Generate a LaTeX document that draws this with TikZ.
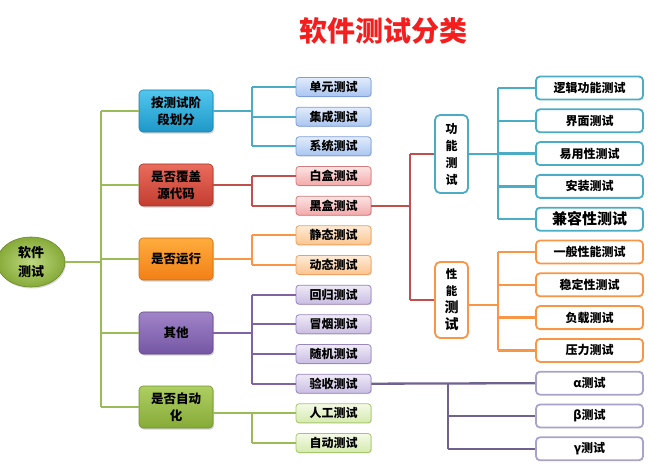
\documentclass[tikz,border=0pt]{standalone}
\usepackage{fontspec}
\newfontfamily\cjk{Noto Sans CJK SC}
\usetikzlibrary{shadows,calc,shapes.geometric}
\definecolor{titleR}{HTML}{F41E1E}
\definecolor{gLine}{HTML}{9BBB59}
\definecolor{bLine}{HTML}{4BACC6}
\definecolor{rLine}{HTML}{C0504D}
\definecolor{oLine}{HTML}{F79646}
\definecolor{pLine}{HTML}{8064A2}
\definecolor{qLine}{HTML}{6F6290}
% level-1 gradients
\definecolor{blueT}{HTML}{52C6EE}\definecolor{blueB}{HTML}{1E98C8}
\definecolor{redT}{HTML}{EA6C5C}\definecolor{redB}{HTML}{C23D2F}
\definecolor{orangeT}{HTML}{FFAC3E}\definecolor{orangeB}{HTML}{F28016}
\definecolor{purpleT}{HTML}{A084C8}\definecolor{purpleB}{HTML}{7456A4}
\definecolor{greenT}{HTML}{AECF62}\definecolor{greenB}{HTML}{86AA38}
% level-2 gradients
\definecolor{blueL}{HTML}{E2ECFB}\definecolor{blueD}{HTML}{A9C5F0}\definecolor{blueE}{HTML}{7D9FD6}
\definecolor{redL}{HTML}{FCE4E4}\definecolor{redD}{HTML}{F3A9A9}\definecolor{redE}{HTML}{D07C7C}
\definecolor{orangeL}{HTML}{FEEBD6}\definecolor{orangeD}{HTML}{FBC48E}\definecolor{orangeE}{HTML}{EEA060}
\definecolor{purpleL}{HTML}{EFEAF7}\definecolor{purpleD}{HTML}{C9BCE2}\definecolor{purpleE}{HTML}{9886BE}
\definecolor{greenL}{HTML}{F4FAE6}\definecolor{greenD}{HTML}{D5EAAE}\definecolor{greenE}{HTML}{A6C66C}
\definecolor{rBlue}{HTML}{4BACC6}
\definecolor{rOrange}{HTML}{F79646}
\definecolor{rPurple}{HTML}{AAA2CA}
\begin{document}
\begin{tikzpicture}[x=1pt,y=-1pt,
  base/.style={inner sep=0pt, align=center, text=black},
  lone/.style={base, rounded corners=4pt, minimum width=74pt, minimum height=42pt,
    top color=#1T, bottom color=#1B, draw=#1B!85!black, line width=0.6pt,
    drop shadow={opacity=0.35, shadow xshift=1.2pt, shadow yshift=-1.6pt},
    font=\cjk\bfseries\fontsize{12.5}{17}\selectfont},
  ltwo/.style={base, rounded corners=3pt, minimum width=75pt, minimum height=19pt,
    top color=#1L, bottom color=#1D, draw=#1E, line width=0.8pt,
    drop shadow={opacity=0.25, shadow xshift=0.8pt, shadow yshift=-0.9pt},
    font=\cjk\bfseries\fontsize{12}{14}\selectfont},
  rbox/.style={base, rounded corners=4pt, minimum width=107pt, minimum height=23pt,
    fill=white, draw=#1, line width=1.8pt,
    font=\cjk\bfseries\fontsize{12}{14}\selectfont},
  vbox/.style={base, rounded corners=5pt, minimum width=33pt, fill=white, draw=#1, line width=1.8pt,
    font=\cjk\bfseries\fontsize{12}{17}\selectfont},
  conn/.style={line width=2.3pt, draw=#1},
]
\useasboundingbox (0,0) rectangle (665,468);

% title
\node[base, text=titleR, font=\cjk\bfseries\fontsize{28}{30}\selectfont] (title) at (383,31) {软件测试分类};

% root
\node[base, ellipse, minimum width=68pt, minimum height=50pt, inner color=greenT!80!white, outer color=greenB,
  draw=greenB!80!black, line width=0.6pt,
  drop shadow={opacity=0.3, shadow xshift=1pt, shadow yshift=-1.5pt},
  font=\cjk\bfseries\fontsize{13}{19}\selectfont] (root) at (31,262) {软件\\测试};

% level 1
\node[lone=blue]   (c1) at (176,111) {按测试阶\\段划分};
\node[lone=red]    (c2) at (176,185) {是否覆盖\\源代码};
\node[lone=orange] (c3) at (176,259) {是否运行};
\node[lone=purple] (c4) at (176,333) {其他};
\node[lone=green]  (c5) at (176,407) {是否自动\\化};

% level 2
\node[ltwo=blue]   (s1)  at (333.5,87)    {单元测试};
\node[ltwo=blue]   (s2)  at (333.5,116.7) {集成测试};
\node[ltwo=blue]   (s3)  at (333.5,146.3) {系统测试};
\node[ltwo=red]    (s4)  at (333.5,176)   {白盒测试};
\node[ltwo=red]    (s5)  at (333.5,205.7) {黑盒测试};
\node[ltwo=orange] (s6)  at (333.5,235.3) {静态测试};
\node[ltwo=orange] (s7)  at (333.5,265)   {动态测试};
\node[ltwo=purple] (s8)  at (333.5,294.7) {回归测试};
\node[ltwo=purple] (s9)  at (333.5,324.3) {冒烟测试};
\node[ltwo=purple] (s10) at (333.5,354)   {随机测试};
\node[ltwo=purple] (s11) at (333.5,383.7) {验收测试};
\node[ltwo=green]  (s12) at (333.5,413.3) {人工测试};
\node[ltwo=green]  (s13) at (333.5,443)   {自动测试};

% vertical boxes
\node[vbox=rBlue, minimum height=78pt] (fun) at (451.5,154) {功\\能\\测\\试};
\node[vbox=rOrange, minimum height=76pt] (perf) at (451.5,300)
  {{\fontsize{11.5}{16}\selectfont 性}\\{\fontsize{11.5}{16}\selectfont 能}\\{\fontsize{14}{17}\selectfont 测}\\{\fontsize{14}{17}\selectfont 试}};

% right boxes
\node[rbox=rBlue]   (r1)  at (589.5,88)    {逻辑功能测试};
\node[rbox=rBlue]   (r2)  at (589.5,120.8) {界面测试};
\node[rbox=rBlue]   (r3)  at (589.5,153.6) {易用性测试};
\node[rbox=rBlue]   (r4)  at (589.5,186.4) {安装测试};
\node[rbox=rBlue, font=\cjk\bfseries\fontsize{15}{17}\selectfont] (r5) at (589.5,219.2) {兼容性测试};
\node[rbox=rOrange] (r6)  at (589.5,252)   {一般性能测试};
\node[rbox=rOrange] (r7)  at (589.5,284.8) {稳定性测试};
\node[rbox=rOrange] (r8)  at (589.5,317.6) {负载测试};
\node[rbox=rOrange] (r9)  at (589.5,350.4) {压力测试};
\node[rbox=rPurple] (r10) at (589.5,383.2) {α测试};
\node[rbox=rPurple] (r11) at (589.5,416)   {β测试};
\node[rbox=rPurple] (r12) at (589.5,448.8) {γ测试};

% trunk
\coordinate (tk) at (101,0);
\draw[conn=gLine] (root.east) -- (tk |- root);
\draw[conn=gLine] (tk |- c1) -- (tk |- c5);
\foreach \i in {1,...,5} \draw[conn=gLine] (tk |- c\i) -- (c\i.west);

% level1 -> level2
\coordinate (bx) at (252,0);
\draw[conn=bLine] (c1.east) -- (bx |- c1);
\draw[conn=bLine] (bx |- s1) -- (bx |- s3);
\foreach \i in {1,2,3} \draw[conn=bLine] (bx |- s\i) -- (s\i.west);

\draw[conn=rLine] (c2.east) -- (bx |- c2);
\draw[conn=rLine] (bx |- s4) -- (bx |- s5);
\foreach \i in {4,5} \draw[conn=rLine] (bx |- s\i) -- (s\i.west);

\draw[conn=oLine] (c3.east) -- (bx |- c3);
\draw[conn=oLine] (bx |- s6) -- (bx |- s7);
\foreach \i in {6,7} \draw[conn=oLine] (bx |- s\i) -- (s\i.west);

\draw[conn=pLine] (c4.east) -- (bx |- c4);
\draw[conn=pLine] (bx |- s8) -- (bx |- s11);
\foreach \i in {8,...,11} \draw[conn=pLine] (bx |- s\i) -- (s\i.west);

\draw[conn=gLine] (c5.east |- s12) -- (bx |- s12);
\draw[conn=gLine] (bx |- s12) -- (bx |- s13);
\foreach \i in {12,13} \draw[conn=gLine] (bx |- s\i) -- (s\i.west);

% black box -> functional / performance
\coordinate (hx) at (410,0);
\draw[conn=rLine] (s5.east) -- (hx |- s5);
\draw[conn=rLine] (hx |- fun) -- (hx |- perf);
\draw[conn=rLine] (hx |- fun) -- (fun.west);
\draw[conn=rLine] (hx |- perf) -- (perf.west);

% functional -> right
\coordinate (fx) at (498,0);
\draw[conn=bLine] (fun.east) -- (fx |- fun);
\draw[conn=bLine] (fx |- r1) -- (fx |- r5);
\foreach \i in {1,...,5} \draw[conn=bLine] (fx |- r\i) -- (r\i.west);

% performance -> right
\coordinate (pe) at ($(perf.east)+(0,5)$);
\draw[conn=oLine] (pe) -- (fx |- pe);
\draw[conn=oLine] (fx |- r6) -- (fx |- r9);
\foreach \i in {6,...,9} \draw[conn=oLine] (fx |- r\i) -- (r\i.west);

% acceptance -> alpha beta gamma
\coordinate (ax) at (448,0);
\draw[conn=qLine] (s11.east) -- (r10.west);
\draw[conn=qLine] (ax |- r10) -- (ax |- r12);
\foreach \i in {11,12} \draw[conn=qLine] (ax |- r\i) -- (r\i.west);
\end{tikzpicture}
\end{document}
